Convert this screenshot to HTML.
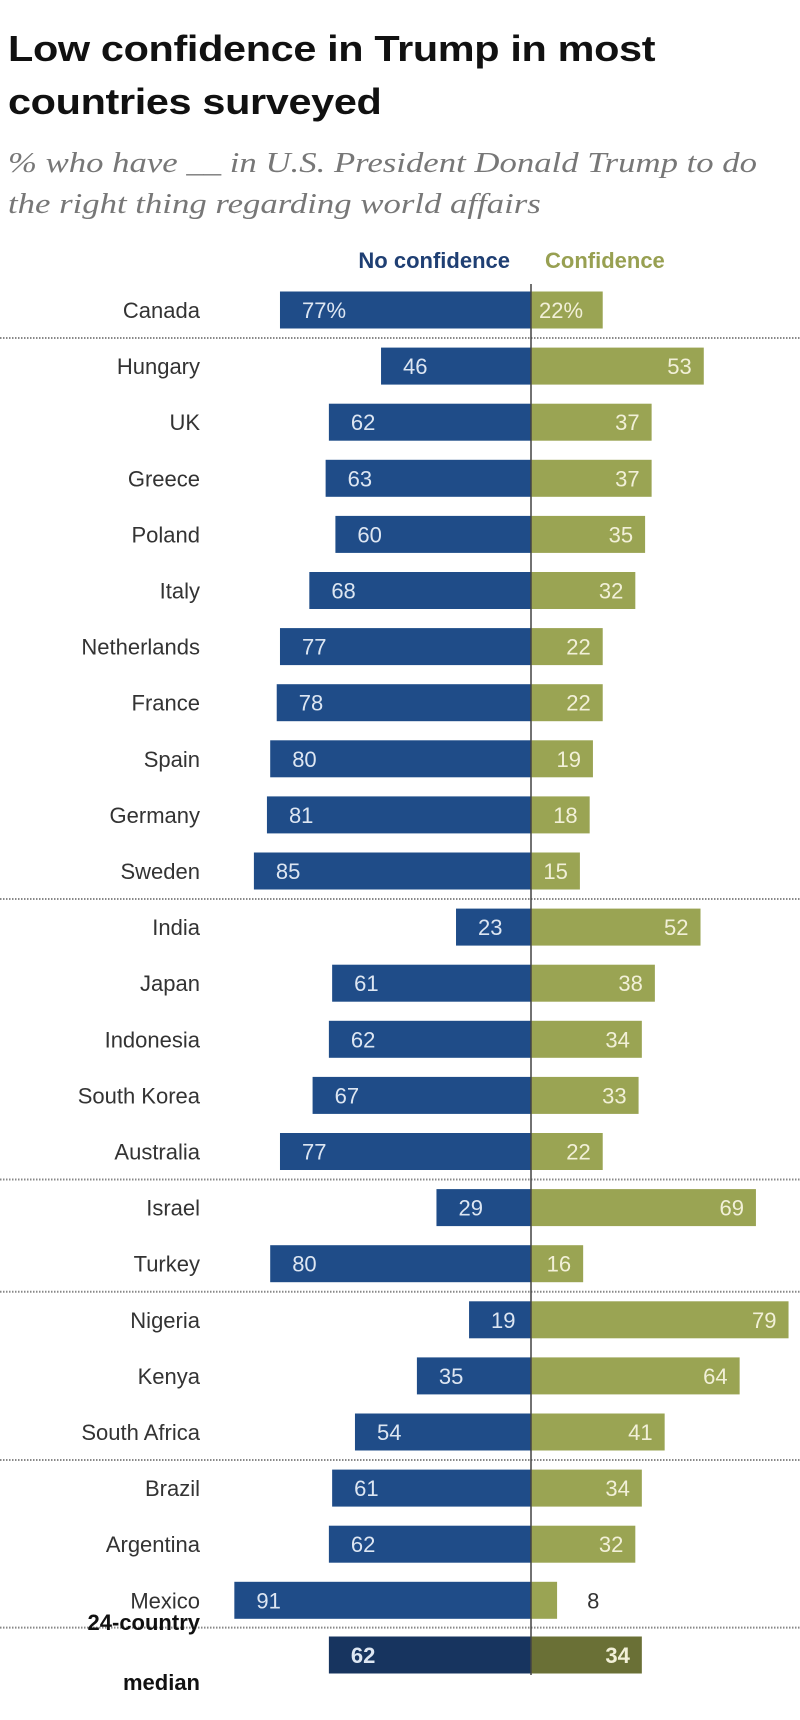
<!DOCTYPE html>
<html><head><meta charset="utf-8"><style>
body{margin:0;background:#fff;width:800px;height:1720px;overflow:hidden;font-family:"Liberation Sans",sans-serif}
#t{position:absolute;left:8px;top:22px;font-size:36px;font-weight:bold;line-height:53px;color:#111;letter-spacing:-0.3px;transform:scaleX(1.15);transform-origin:0 0;white-space:nowrap}
#s{position:absolute;left:8px;top:143px;font-family:"Liberation Serif",serif;font-style:italic;font-size:28px;line-height:41px;color:#777;transform:scaleX(1.24);transform-origin:0 0;white-space:nowrap}
</style></head><body>
<div id="t">Low confidence in Trump in most<br>countries surveyed</div>
<div id="s">% who have __ in U.S. President Donald Trump to do<br>the right thing regarding world affairs</div>
<svg id="c" width="800" height="1720" style="position:absolute;left:0;top:0"></svg>
<script>
const countries=["Canada","Hungary","UK","Greece","Poland","Italy","Netherlands","France","Spain","Germany","Sweden","India","Japan","Indonesia","South Korea","Australia","Israel","Turkey","Nigeria","Kenya","South Africa","Brazil","Argentina","Mexico","24-country median"];
const noConf=[77,46,62,63,60,68,77,78,80,81,85,23,61,62,67,77,29,80,19,35,54,61,62,91,62];
const conf=[22,53,37,37,35,32,22,22,19,18,15,52,38,34,33,22,69,16,79,64,41,34,32,8,34];
const separatorsAfter=[0,10,15,17,20,23];
const svg=document.getElementById('c');const NS='http://www.w3.org/2000/svg';
const ax=531,k=3.26,y0=310,pitch=56.1,bh=37;
const x=v=>v*k;const yc=i=>i<24?y0+i*pitch:1655;
function mk(t,a){const e=document.createElementNS(NS,t);for(const n in a)e.setAttribute(n,a[n]);svg.appendChild(e);return e;}
function txt(s,a){const e=mk('text',a);e.textContent=s;return e;}
let l=txt('No confidence',{x:510,y:268,'text-anchor':'end','font-size':22,'font-weight':'bold',fill:'#1f3f73'});

l=txt('Confidence',{x:545,y:268,'font-size':22,'font-weight':'bold',fill:'#98a052'});

separatorsAfter.forEach(i=>{const yy=(yc(i)+yc(i+1))/2;const e=mk('line',{x1:0,x2:800,y1:yy,y2:yy,stroke:'#888','stroke-width':2,'stroke-dasharray':'1.5 1.5'});
});
countries.forEach((c,i)=>{const cy=yc(i);const med=i===24;
 const b1=mk('rect',{x:ax-x(noConf[i]),y:cy-bh/2,width:x(noConf[i]),height:bh,fill:med?'#17345f':'#1f4c88'});
 
 const b2=mk('rect',{x:ax,y:cy-bh/2,width:x(conf[i]),height:bh,fill:med?'#6a7036':'#9aa453'});
 
 const fw=med?'bold':'normal';
 let t=txt(noConf[i]+(i===0?'%':''),{x:ax-x(noConf[i])+22,y:cy+8,'font-size':22,fill:'#dde6f2','font-weight':fw});
 
 const out=conf[i]<12;
 t=txt(conf[i]+(i===0?'%':''),out?{x:ax+x(conf[i])+30,y:cy+8,'font-size':22,fill:'#333'}:{x:i===0?ax+8:ax+x(conf[i])-12,y:cy+8,'text-anchor':i===0?'start':'end','font-size':22,fill:'#f2f0d8','font-weight':fw});
 
 if(med){t=txt('24-country',{x:200,y:cy-25,'text-anchor':'end','font-size':22,'font-weight':'bold',fill:'#111'});
  
  t=txt('median',{x:200,y:cy+35,'text-anchor':'end','font-size':22,'font-weight':'bold',fill:'#111'});
  }
 else{t=txt(c,{x:200,y:cy+8,'text-anchor':'end','font-size':22,fill:'#333'});
  }
});
const a=mk('line',{x1:ax,x2:ax,y1:284,y2:1675,stroke:'#444','stroke-width':1.5});

</script>
</body></html>
